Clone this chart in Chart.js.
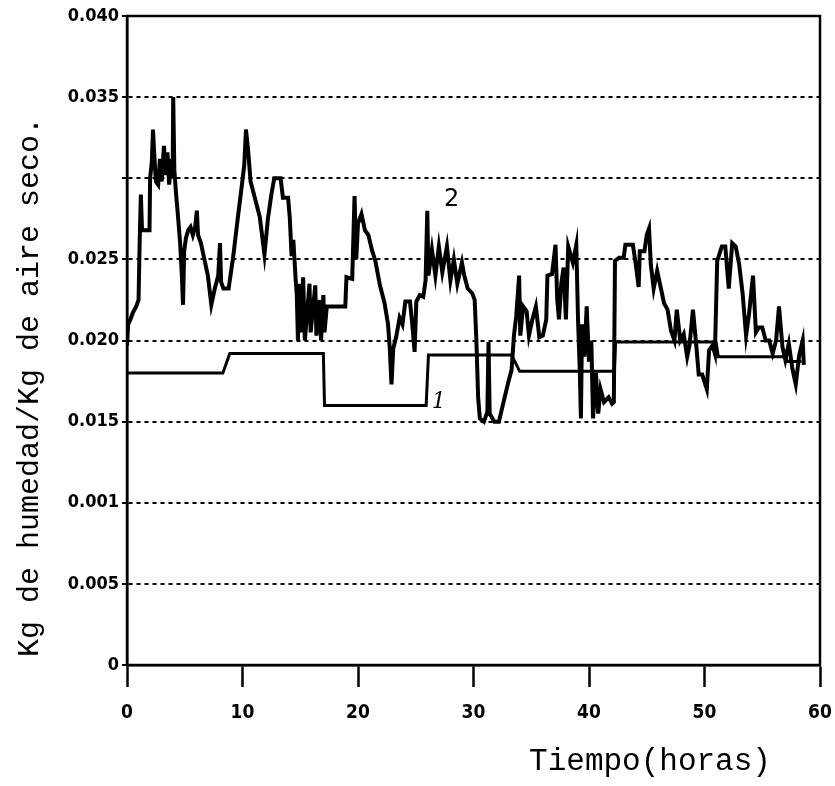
<!DOCTYPE html>
<html>
<head>
<meta charset="utf-8">
<title>Humedad</title>
<script src="https://cdn.jsdelivr.net/npm/chart.js@4/dist/chart.umd.min.js"></script>
<style>
  html, body { margin: 0; padding: 0; background: #fff; }
  #wrap { width: 835px; height: 786px; }
</style>
</head>
<body>
<div id="wrap"><canvas id="humidityChart" width="835" height="786"></canvas></div>
<script>
// curva 1: aire de entrada (escalonada)
const hours1 = [0, 8.3, 8.9, 17.0, 17.1, 25.9, 26.1, 33.3, 34.0, 42.2, 42.3, 51.0, 51.2, 57.0, 57.2, 58.4];
const moisture1 = [0.0180, 0.0180, 0.0192, 0.0192, 0.0160, 0.0160, 0.0191, 0.0191, 0.0181, 0.0181, 0.0199, 0.0199, 0.0190, 0.0190, 0.0187, 0.0187];

// curva 2: aire de salida
const hours2 = [
  0.0, 0.1, 0.3, 0.5, 0.8, 1.0, 1.1, 1.2, 1.3, 1.95, 2.0, 2.15, 2.25, 2.35, 2.5, 2.7, 2.85, 3.0, 3.2, 3.35,
  3.5, 3.65, 3.8, 3.95, 4.0, 4.1, 4.25, 4.4, 4.6, 4.75, 4.85, 4.95, 5.1, 5.3, 5.5, 5.7, 5.9, 6.05, 6.15, 6.4,
  6.7, 7.0, 7.3, 7.6, 7.9, 8.05, 8.15, 8.35, 8.8, 9.2, 9.6, 9.95, 10.15, 10.3, 10.5, 10.7, 11.1, 11.5, 11.9, 12.2,
  12.5, 12.75, 13.3, 13.5, 13.95, 14.1, 14.25, 14.4, 14.6, 14.7, 14.8, 14.9, 15.05, 15.25, 15.4, 15.8, 15.9, 16.3, 16.4, 16.7,
  16.8, 17.0, 17.1, 17.3, 18.9, 19.0, 19.5, 19.7, 19.85, 20.0, 20.3, 20.6, 20.9, 21.2, 21.5, 21.9, 22.3, 22.6, 22.75, 22.9,
  23.05, 23.3, 23.6, 23.85, 24.1, 24.5, 24.7, 24.9, 25.05, 25.35, 25.65, 25.85, 26.0, 26.1, 26.4, 26.7, 27.0, 27.3, 27.7, 28.0,
  28.3, 28.6, 29.0, 29.2, 29.5, 29.9, 30.1, 30.25, 30.4, 30.55, 30.9, 31.2, 31.3, 31.4, 31.8, 32.2, 32.6, 33.0, 33.3, 33.5,
  33.7, 33.95, 34.05, 34.3, 34.6, 34.8, 35.1, 35.4, 35.7, 36.0, 36.3, 36.4, 36.8, 37.1, 37.25, 37.4, 37.6, 37.8, 38.0, 38.2,
  38.6, 38.9, 39.05, 39.2, 39.3, 39.4, 39.6, 39.8, 40.0, 40.2, 40.35, 40.6, 40.8, 41.0, 41.3, 41.7, 42.0, 42.15, 42.25, 42.6,
  43.0, 43.15, 43.8, 44.05, 44.3, 44.4, 44.8, 45.0, 45.2, 45.35, 45.6, 45.9, 46.2, 46.5, 46.8, 47.1, 47.4, 47.6, 47.9, 48.2,
  48.5, 48.7, 49.0, 49.3, 49.5, 49.8, 50.2, 50.4, 50.7, 50.9, 51.1, 51.5, 51.8, 52.1, 52.4, 52.7, 53.0, 53.3, 53.6, 53.85,
  54.2, 54.45, 54.7, 55.0, 55.3, 55.6, 55.9, 56.2, 56.45, 56.75, 57.0, 57.3, 57.6, 57.9, 58.2, 58.5, 58.6
];
const moisture2 = [
  0.0197, 0.0210, 0.0213, 0.0217, 0.0221, 0.0225, 0.0262, 0.0290, 0.0268, 0.0268, 0.0300, 0.0310, 0.0330, 0.0316, 0.0298, 0.0296, 0.0312, 0.0298, 0.0320, 0.0302,
  0.0316, 0.0296, 0.0312, 0.0300, 0.0350, 0.0305, 0.0290, 0.0278, 0.0260, 0.0240, 0.0222, 0.0255, 0.0263, 0.0268, 0.0270, 0.0265, 0.0270, 0.0280, 0.0265, 0.0260,
  0.0250, 0.0240, 0.0222, 0.0232, 0.0240, 0.0260, 0.0236, 0.0232, 0.0232, 0.0252, 0.0276, 0.0296, 0.0308, 0.0330, 0.0316, 0.0298, 0.0287, 0.0276, 0.0253, 0.0275,
  0.0290, 0.0300, 0.0300, 0.0288, 0.0288, 0.0275, 0.0252, 0.0262, 0.0238, 0.0228, 0.0200, 0.0235, 0.0205, 0.0239, 0.0200, 0.0235, 0.0205, 0.0234, 0.0203, 0.0225,
  0.0200, 0.0228, 0.0205, 0.0221, 0.0221, 0.0239, 0.0238, 0.0289, 0.0250, 0.0272, 0.0278, 0.0268, 0.0265, 0.0256, 0.0249, 0.0234, 0.0223, 0.0210, 0.0195, 0.0173,
  0.0195, 0.0202, 0.0214, 0.0210, 0.0224, 0.0224, 0.0210, 0.0193, 0.0224, 0.0228, 0.0227, 0.0237, 0.0280, 0.0240, 0.0256, 0.0240, 0.0258, 0.0242, 0.0258, 0.0237,
  0.0250, 0.0235, 0.0248, 0.0240, 0.0232, 0.0229, 0.0225, 0.0200, 0.0165, 0.0152, 0.0150, 0.0156, 0.0199, 0.0155, 0.0150, 0.0150, 0.0162, 0.0174, 0.0182, 0.0203,
  0.0215, 0.0240, 0.0203, 0.0221, 0.0218, 0.0203, 0.0213, 0.0221, 0.0202, 0.0203, 0.0213, 0.0240, 0.0241, 0.0259, 0.0225, 0.0213, 0.0235, 0.0245, 0.0213, 0.0258,
  0.0248, 0.0259, 0.0213, 0.0182, 0.0152, 0.0210, 0.0190, 0.0221, 0.0187, 0.0200, 0.0152, 0.0180, 0.0155, 0.0170, 0.0162, 0.0165, 0.0161, 0.0162, 0.0249, 0.0251,
  0.0251, 0.0259, 0.0259, 0.0247, 0.0233, 0.0255, 0.0255, 0.0265, 0.0269, 0.0247, 0.0232, 0.0243, 0.0233, 0.0223, 0.0219, 0.0206, 0.0200, 0.0219, 0.0200, 0.0204,
  0.0190, 0.0197, 0.0219, 0.0196, 0.0179, 0.0179, 0.0170, 0.0194, 0.0197, 0.0192, 0.0249, 0.0258, 0.0258, 0.0232, 0.0260, 0.0258, 0.0247, 0.0229, 0.0203, 0.0216,
  0.0240, 0.0205, 0.0208, 0.0208, 0.0200, 0.0200, 0.0192, 0.0200, 0.0221, 0.0196, 0.0188, 0.0198, 0.0183, 0.0173, 0.0191, 0.0200, 0.0185
];

const yTickValues = [0, 0.005, 0.010, 0.015, 0.020, 0.025, 0.030, 0.035, 0.040];
const yTickLabels = ['0', '0.005', '0.001', '0.015', '0.020', '0.025', '', '0.035', '0.040'];
const xTickValues = [0, 10, 20, 30, 40, 50, 60];

const toPoints = (xs, ys) => xs.map((x, i) => ({ x: x, y: ys[i] }));

const tickFamily = '"DejaVu Sans Condensed", "DejaVu Sans", sans-serif';
const titleFont = '"Liberation Mono", "DejaVu Sans Mono", monospace';

// recuadro completo alrededor del area de trazado
const framePlugin = {
  id: 'frame',
  afterDraw(chart) {
    const { ctx, chartArea: a } = chart;
    ctx.save();
    ctx.strokeStyle = '#000';
    ctx.lineWidth = 2.5;
    ctx.strokeRect(a.left, a.top, a.right - a.left, a.bottom - a.top);
    ctx.restore();
  },
};

// rotulos de las curvas y titulos de los ejes
const labelsPlugin = {
  id: 'labels',
  afterDraw(chart) {
    const { ctx, chartArea: a, scales } = chart;
    const x = scales.x;
    const y = scales.y;
    ctx.save();
    ctx.fillStyle = '#000';
    ctx.textAlign = 'center';
    ctx.textBaseline = 'middle';

    ctx.font = '24px "DejaVu Sans", sans-serif';
    ctx.fillText('2', x.getPixelForValue(28.1), y.getPixelForValue(0.0287));
    ctx.font = 'italic 22px "DejaVu Serif", serif';
    ctx.fillText('1', x.getPixelForValue(27.0), y.getPixelForValue(0.0162));

    ctx.font = '31px ' + titleFont;
    ctx.fillText('Tiempo(horas)', a.right - 170, a.bottom + 97);

    ctx.font = '30px ' + titleFont;
    ctx.translate(30, 387);
    ctx.rotate(-Math.PI / 2);
    ctx.fillText('Kg de humedad/Kg de aire seco.', 0, 0);
    ctx.restore();
  },
};

new Chart(document.getElementById('humidityChart'), {
  type: 'line',
  data: {
    datasets: [
      {
        label: '1',
        data: toPoints(hours1, moisture1),
        borderColor: '#000',
        borderWidth: 3,
        pointRadius: 0,
        tension: 0,
      },
      {
        label: '2',
        data: toPoints(hours2, moisture2),
        borderColor: '#000',
        borderWidth: 4,
        borderJoinStyle: 'miter',
        pointRadius: 0,
        tension: 0,
      },
    ],
  },
  options: {
    responsive: false,
    animation: false,
    layout: { padding: { top: 16, right: 15, left: 0, bottom: 0 } },
    plugins: { legend: { display: false }, tooltip: { enabled: false } },
    scales: {
      x: {
        type: 'linear',
        min: 0,
        max: 60,
        afterBuildTicks: (scale) => { scale.ticks = xTickValues.map((v) => ({ value: v })); },
        afterFit: (scale) => {
          scale.height = 121;
          scale.paddingLeft = 0;
          scale.paddingRight = 0;
        },
        ticks: { color: '#000', font: { family: tickFamily, size: 19, weight: 'bold' }, padding: 15, maxRotation: 0 },
        grid: { drawOnChartArea: false, drawTicks: true, tickLength: 22, tickWidth: 2.5, tickColor: '#000' },
        border: { display: true, color: '#000', width: 2.5 },
      },
      y: {
        min: 0,
        max: 0.040,
        afterBuildTicks: (scale) => { scale.ticks = yTickValues.map((v) => ({ value: v })); },
        afterFit: (scale) => { scale.width = 127; },
        ticks: {
          color: '#000',
          font: { family: tickFamily, size: 18, weight: 'bold' },
          padding: 3,
          callback: (value, index) => yTickLabels[index],
        },
        grid: {
          color: (c) => (c.tick && (c.tick.value === 0 || c.tick.value >= 0.04) ? 'rgba(0,0,0,0)' : '#000'),
          lineWidth: 2,
          drawTicks: true,
          tickLength: 5,
          tickWidth: 2,
          tickColor: '#000',
          tickBorderDash: [],
        },
        border: { display: true, color: '#000', width: 2.5, dash: [4, 4] },
      },
    },
  },
  plugins: [framePlugin, labelsPlugin],
});
</script>
</body>
</html>
